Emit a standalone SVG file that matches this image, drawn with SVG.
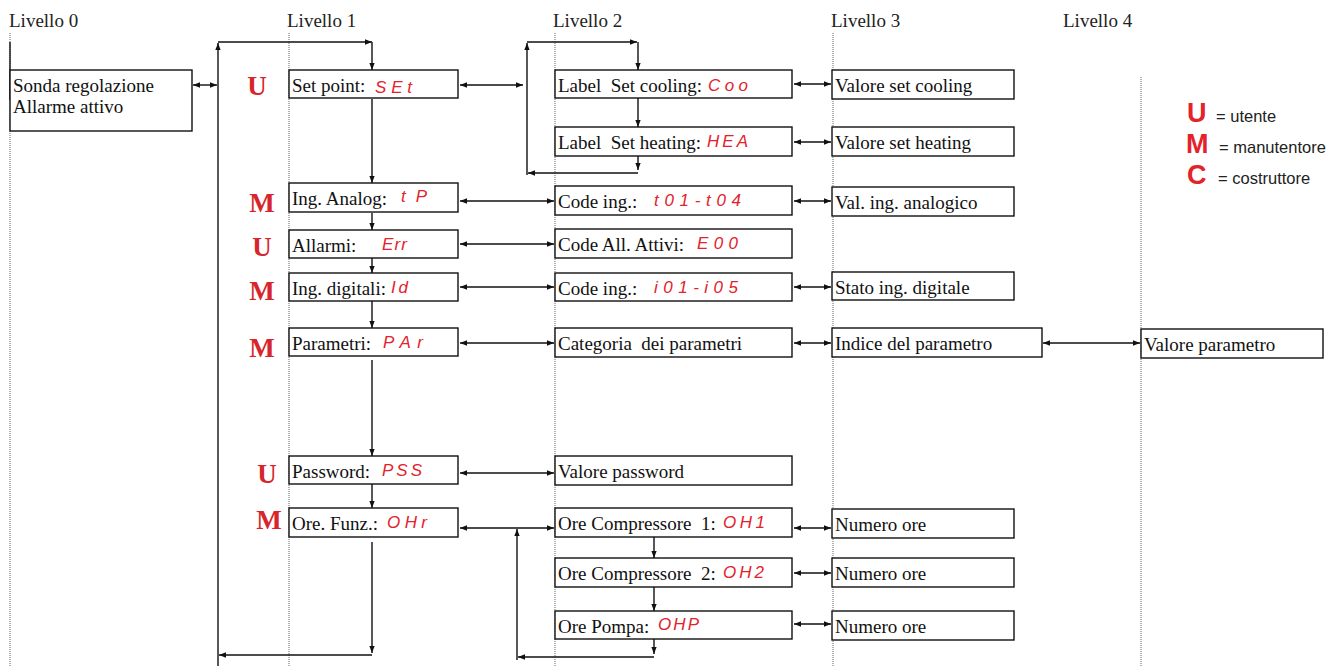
<svg xmlns="http://www.w3.org/2000/svg" width="1340" height="666" viewBox="0 0 1340 666">
<style>
.bg{fill:#fff}
.hdr{font-family:"Liberation Serif","Times New Roman",serif;font-size:19px;fill:#222}
.t{font-family:"Liberation Serif","Times New Roman",serif;font-size:19px;fill:#111;white-space:pre}
.box{fill:#fff;stroke:#111;stroke-width:1.4}
.code{font-family:"Liberation Sans",Arial,sans-serif;font-style:italic;font-size:17px;fill:#e3222c;white-space:pre}
.role{font-family:"Liberation Serif","Times New Roman",serif;font-weight:bold;font-size:27px;fill:#d8242c;text-anchor:middle}
.lg{font-family:"Liberation Sans",Arial,sans-serif;font-weight:bold;font-size:27px;fill:#e3222c}
.lgt{font-family:"Liberation Sans",Arial,sans-serif;font-size:16.5px;fill:#222}
.dot{stroke:#666;stroke-width:1;stroke-dasharray:1 1;fill:none}
.ln{stroke:#111;stroke-width:1.4;fill:none}
.a1{marker-end:url(#ah)}
.a2{marker-start:url(#ah);marker-end:url(#ah)}
</style>
<defs>
<marker id="ah" viewBox="0 0 10 10" refX="10" refY="5" markerWidth="7" markerHeight="7" markerUnits="userSpaceOnUse" orient="auto-start-reverse">
<path d="M0,1.2 L10,5 L0,8.8 z" fill="#111"/>
</marker>
</defs>
<rect class="bg" x="0" y="0" width="1340" height="666"/>

<g id="headers">
<text class="hdr" x="9" y="27">Livello 0</text>
<text class="hdr" x="287" y="27">Livello 1</text>
<text class="hdr" x="553" y="27">Livello 2</text>
<text class="hdr" x="831" y="27">Livello 3</text>
<text class="hdr" x="1063" y="27">Livello 4</text>
</g>

<g id="gridlines">
<line class="dot" x1="10" y1="33" x2="10" y2="666"/>
<line class="dot" x1="289" y1="33" x2="289" y2="666"/>
<line class="dot" x1="555" y1="33" x2="555" y2="666"/>
<line class="dot" x1="833" y1="33" x2="833" y2="666"/>
<line class="dot" x1="1141" y1="77" x2="1141" y2="666"/>
</g>

<g id="legend">
<text class="lg" x="1187" y="122">U</text><text class="lgt" x="1216" y="122">= utente</text>
<text class="lg" x="1186" y="153">M</text><text class="lgt" x="1219" y="153">= manutentore</text>
<text class="lg" x="1187" y="184">C</text><text class="lgt" x="1218" y="184">= costruttore</text>
</g>

<g id="connectors">
<line class="ln" x1="10" y1="42" x2="10" y2="100"/>
<line class="ln a2" x1="193" y1="85" x2="217" y2="85"/>
<path class="ln a1" d="M218,666 V43"/>
<path class="ln a1" d="M218,42 H372"/>
<path class="ln a1" d="M372,42 V70"/>
<path class="ln a1" d="M372,99 V183"/>
<path class="ln a1" d="M372,213 V230"/>
<path class="ln a1" d="M372,258 V273"/>
<path class="ln a1" d="M372,301 V328"/>
<path class="ln a1" d="M372,360 V456"/>
<path class="ln a1" d="M372,484 V508"/>
<path class="ln a1" d="M372,542 V653"/>
<path class="ln a1" d="M372,655 H219"/>

<line class="ln a2" x1="460" y1="85" x2="523" y2="85"/>
<path class="ln a1" d="M527,175 V43"/>
<path class="ln a1" d="M527,42 H637"/>
<path class="ln a1" d="M638,42 V70"/>
<path class="ln a1" d="M638,98 V127"/>
<path class="ln a1" d="M638,156 V170"/>
<path class="ln a1" d="M638,173 H528"/>

<line class="ln a2" x1="460" y1="201" x2="554" y2="201"/>
<line class="ln a2" x1="460" y1="244" x2="554" y2="244"/>
<line class="ln a2" x1="460" y1="287" x2="554" y2="287"/>
<line class="ln a2" x1="460" y1="343" x2="554" y2="343"/>
<line class="ln a2" x1="460" y1="473" x2="554" y2="473"/>
<line class="ln a2" x1="460" y1="528" x2="554" y2="528"/>

<path class="ln a1" d="M654,537 V558"/>
<path class="ln a1" d="M654,587 V611"/>
<path class="ln a1" d="M654,639 V654"/>
<path class="ln a1" d="M654,657 H518"/>
<path class="ln a1" d="M517,660 V529"/>

<line class="ln a2" x1="794" y1="84" x2="831" y2="84"/>
<line class="ln a2" x1="794" y1="142" x2="831" y2="142"/>
<line class="ln a2" x1="794" y1="201" x2="831" y2="201"/>
<line class="ln a2" x1="794" y1="287" x2="831" y2="287"/>
<line class="ln a2" x1="794" y1="343" x2="831" y2="343"/>
<line class="ln a2" x1="794" y1="528" x2="831" y2="528"/>
<line class="ln a2" x1="794" y1="573" x2="831" y2="573"/>
<line class="ln a2" x1="794" y1="624" x2="831" y2="624"/>
<line class="ln a2" x1="1043" y1="343" x2="1140" y2="343"/>
</g>

<g id="n-sonda"><rect class="box" x="10" y="70" width="182" height="61"/>
<text class="t" x="13" y="92">Sonda regolazione</text><text class="t" x="13" y="113">Allarme attivo</text></g>

<g id="roles">
<text class="role" x="257" y="95">U</text>
<text class="role" x="262" y="212">M</text>
<text class="role" x="262" y="256">U</text>
<text class="role" x="262" y="300">M</text>
<text class="role" x="262" y="357">M</text>
<text class="role" x="267" y="483">U</text>
<text class="role" x="269" y="529">M</text>
</g>

<g id="n-setpoint"><rect class="box" x="289" y="70" width="169" height="28"/>
<text class="t" x="292" y="92">Set point:</text><text class="code" x="375" y="93" textLength="37" lengthAdjust="spacing">SEt</text></g>
<g id="n-inganalog"><rect class="box" x="289" y="183" width="169" height="29"/>
<text class="t" x="292" y="205">Ing. Analog:</text><text class="code" x="401" y="202" textLength="26" lengthAdjust="spacing">tP</text></g>
<g id="n-allarmi"><rect class="box" x="289" y="230" width="169" height="28"/>
<text class="t" x="292" y="252">Allarmi:</text><text class="code" x="382" y="250" textLength="25" lengthAdjust="spacing">Err</text></g>
<g id="n-ingdig"><rect class="box" x="289" y="273" width="169" height="28"/>
<text class="t" x="292" y="295">Ing. digitali:</text><text class="code" x="391" y="293" textLength="17" lengthAdjust="spacing">Id</text></g>
<g id="n-parametri"><rect class="box" x="289" y="328" width="169" height="28"/>
<text class="t" x="292" y="350">Parametri:</text><text class="code" x="383" y="348" textLength="40" lengthAdjust="spacing">PAr</text></g>
<g id="n-password"><rect class="box" x="289" y="456" width="169" height="28"/>
<text class="t" x="292" y="478">Password:</text><text class="code" x="382" y="476" textLength="40" lengthAdjust="spacing">PSS</text></g>
<g id="n-orefunz"><rect class="box" x="289" y="508" width="169" height="29"/>
<text class="t" x="292" y="530">Ore. Funz.:</text><text class="code" x="387" y="528" textLength="40" lengthAdjust="spacing">OHr</text></g>

<g id="n-cooling"><rect class="box" x="555" y="70" width="237" height="28"/>
<text class="t" x="558" y="92">Label  Set cooling:</text><text class="code" x="708" y="91" textLength="40" lengthAdjust="spacing">Coo</text></g>
<g id="n-heating"><rect class="box" x="555" y="127" width="237" height="29"/>
<text class="t" x="558" y="149">Label  Set heating:</text><text class="code" x="707" y="147" textLength="41" lengthAdjust="spacing">HEA</text></g>
<g id="n-codeing1"><rect class="box" x="555" y="186" width="237" height="29"/>
<text class="t" x="558" y="208">Code ing.:</text><text class="code" x="654" y="206" textLength="87" lengthAdjust="spacing">t01-t04</text></g>
<g id="n-codeall"><rect class="box" x="555" y="229" width="237" height="29"/>
<text class="t" x="558" y="251">Code All. Attivi:</text><text class="code" x="697" y="249" textLength="41" lengthAdjust="spacing">E00</text></g>
<g id="n-codeing2"><rect class="box" x="555" y="273" width="237" height="28"/>
<text class="t" x="558" y="295">Code ing.:</text><text class="code" x="654" y="293" textLength="84" lengthAdjust="spacing">i01-i05</text></g>
<g id="n-categoria"><rect class="box" x="555" y="328" width="237" height="29"/>
<text class="t" x="558" y="350">Categoria  dei parametri</text></g>
<g id="n-valpwd"><rect class="box" x="555" y="456" width="237" height="29"/>
<text class="t" x="558" y="478">Valore password</text></g>
<g id="n-oh1"><rect class="box" x="555" y="508" width="237" height="29"/>
<text class="t" x="558" y="530">Ore Compressore  1:</text><text class="code" x="723" y="528" textLength="42" lengthAdjust="spacing">OH1</text></g>
<g id="n-oh2"><rect class="box" x="555" y="558" width="237" height="29"/>
<text class="t" x="558" y="580">Ore Compressore  2:</text><text class="code" x="723" y="578" textLength="41" lengthAdjust="spacing">OH2</text></g>
<g id="n-ohp"><rect class="box" x="555" y="611" width="237" height="28"/>
<text class="t" x="558" y="633">Ore Pompa:</text><text class="code" x="658" y="630" textLength="41" lengthAdjust="spacing">OHP</text></g>

<g id="n-valcool"><rect class="box" x="832" y="70" width="182" height="29"/>
<text class="t" x="835" y="92">Valore set cooling</text></g>
<g id="n-valheat"><rect class="box" x="832" y="127" width="182" height="29"/>
<text class="t" x="835" y="149">Valore set heating</text></g>
<g id="n-valana"><rect class="box" x="832" y="187" width="182" height="29"/>
<text class="t" x="835" y="209">Val. ing. analogico</text></g>
<g id="n-statodig"><rect class="box" x="832" y="272" width="182" height="28"/>
<text class="t" x="835" y="294">Stato ing. digitale</text></g>
<g id="n-indice"><rect class="box" x="832" y="328" width="210" height="29"/>
<text class="t" x="835" y="350">Indice del parametro</text></g>
<g id="n-ore1"><rect class="box" x="832" y="509" width="182" height="29"/>
<text class="t" x="835" y="531">Numero ore</text></g>
<g id="n-ore2"><rect class="box" x="832" y="558" width="182" height="29"/>
<text class="t" x="835" y="580">Numero ore</text></g>
<g id="n-ore3"><rect class="box" x="832" y="611" width="182" height="29"/>
<text class="t" x="835" y="633">Numero ore</text></g>
<g id="n-valpar"><rect class="box" x="1141" y="329" width="182" height="29"/>
<text class="t" x="1144" y="351">Valore parametro</text></g>
</svg>
